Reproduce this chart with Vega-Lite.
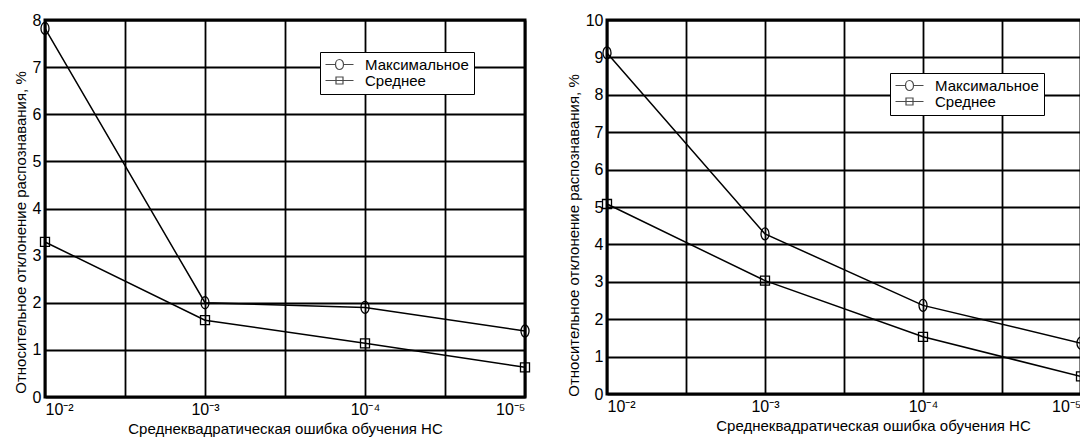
{
  "$schema": "https://vega.github.io/schema/vega-lite/v6.json",
  "background": "white",
  "padding": {"left": 11, "top": 10, "right": 0, "bottom": 0},
  "config": {
    "font": "Liberation Sans",
    "view": {"stroke": "black", "strokeWidth": 3},
    "axis": {
      "domain": false,
      "ticks": false,
      "gridColor": "black",
      "gridWidth": 1.8,
      "gridOpacity": 1,
      "labelColor": "black",
      "titleColor": "black",
      "labelFontSize": 16,
      "titleFontSize": 15,
      "titleFontWeight": "normal",
      "labelFont": "Liberation Sans",
      "titleFont": "Liberation Sans",
      "labelOverlap": false
    },
    "legend": {
      "title": null,
      "orient": "none",
      "strokeColor": "black",
      "fillColor": "white",
      "padding": 5,
      "labelFontSize": 15,
      "labelColor": "black",
      "labelFont": "Liberation Sans",
      "symbolStrokeColor": "black",
      "symbolFillColor": "transparent",
      "symbolSize": 64,
      "symbolStrokeWidth": 1.2,
      "rowPadding": 0,
      "symbolOffset": 7,
      "labelOffset": 18
    }
  },
  "datasets": {
    "left": [
      {"exp": 2, "value": 7.82, "series": "Максимальное"},
      {"exp": 3, "value": 2.0, "series": "Максимальное"},
      {"exp": 4, "value": 1.9, "series": "Максимальное"},
      {"exp": 5, "value": 1.4, "series": "Максимальное"},
      {"exp": 2, "value": 3.29, "series": "Среднее"},
      {"exp": 3, "value": 1.63, "series": "Среднее"},
      {"exp": 4, "value": 1.14, "series": "Среднее"},
      {"exp": 5, "value": 0.63, "series": "Среднее"}
    ],
    "right": [
      {"exp": 2, "value": 9.12, "series": "Максимальное"},
      {"exp": 3, "value": 4.28, "series": "Максимальное"},
      {"exp": 4, "value": 2.37, "series": "Максимальное"},
      {"exp": 5, "value": 1.36, "series": "Максимальное"},
      {"exp": 2, "value": 5.08, "series": "Среднее"},
      {"exp": 3, "value": 3.03, "series": "Среднее"},
      {"exp": 4, "value": 1.53, "series": "Среднее"},
      {"exp": 5, "value": 0.47, "series": "Среднее"}
    ]
  },
  "spacing": 30,
  "resolve": {
    "scale": {"x": "independent", "y": "independent", "shape": "independent"},
    "legend": {"shape": "independent"}
  },
  "hconcat": [
    {
      "width": 480,
      "height": 377,
      "data": {"name": "left"},
      "encoding": {
        "x": {
          "field": "exp", "type": "quantitative",
          "scale": {"domain": [2, 5], "nice": false, "zero": false},
          "axis": {
            "values": [2, 2.5, 3, 3.5, 4, 4.5, 5],
            "labelExpr": "datum.value == 2 ? '10⁻²' : datum.value == 3 ? '10⁻³' : datum.value == 4 ? '10⁻⁴' : datum.value == 5 ? '10⁻⁵' : ''",
            "labelFlush": true,
            "labelPadding": 4,
            "titlePadding": 4,
            "title": "Среднеквадратическая ошибка обучения НС"
          }
        },
        "y": {
          "field": "value", "type": "quantitative",
          "scale": {"domain": [0, 8], "nice": false},
          "axis": {
            "values": [0, 1, 2, 3, 4, 5, 6, 7, 8],
            "labelPadding": 4,
            "titlePadding": 4,
            "titleY": 212,
            "title": "Относительное отклонение распознавания, %"
          }
        }
      },
      "resolve": {"scale": {"shape": "independent"}, "legend": {"shape": "independent"}},
      "layer": [
        {
          "mark": {"type": "line", "color": "black", "strokeWidth": 1.5},
          "encoding": {"detail": {"field": "series", "type": "nominal"}}
        },
        {
          "mark": {"type": "point", "filled": false, "color": "black", "strokeWidth": 1.3, "size": 144, "opacity": 1},
          "encoding": {
            "shape": {
              "field": "series", "type": "nominal",
              "scale": {
                "domain": ["Максимальное", "Среднее"],
                "range": ["M0,-1A0.67,1 0 1,1 0,1A0.67,1 0 1,1 0,-1Z", "M-0.75,-0.75H0.75V0.75H-0.75Z"]
              },
              "legend": null
            }
          }
        },
        {
          "transform": [{"filter": "datum.exp > 100"}],
          "mark": {"type": "point", "filled": false, "color": "black", "strokeWidth": 1.2, "size": 64},
          "encoding": {
            "shape": {
              "field": "series", "type": "nominal",
              "scale": {
                "domain": ["Максимальное", "Среднее"],
                "range": ["M-3.5,0H-1M1,0H3.5M-1,0A1,1.25 0 1,1 1,0A1,1.25 0 1,1 -1,0", "M-3.5,0H3.5M-0.875,-0.875H0.875V0.875H-0.875Z"]
              },
              "legend": {"legendX": 275, "legendY": 32}
            }
          }
        }
      ]
    },
    {
      "width": 474,
      "height": 374,
      "data": {"name": "right"},
      "encoding": {
        "x": {
          "field": "exp", "type": "quantitative",
          "scale": {"domain": [2, 5], "nice": false, "zero": false},
          "axis": {
            "values": [2, 2.5, 3, 3.5, 4, 4.5, 5],
            "labelExpr": "datum.value == 2 ? '10⁻²' : datum.value == 3 ? '10⁻³' : datum.value == 4 ? '10⁻⁴' : datum.value == 5 ? '10⁻⁵' : ''",
            "labelFlush": true,
            "labelPadding": 4,
            "titlePadding": 4,
            "titleX": 266,
            "titleAlign": "center",
            "title": "Среднеквадратическая ошибка обучения НС"
          }
        },
        "y": {
          "field": "value", "type": "quantitative",
          "scale": {"domain": [0, 10], "nice": false},
          "axis": {
            "values": [0, 1, 2, 3, 4, 5, 6, 7, 8, 9, 10],
            "labelPadding": 4,
            "titlePadding": 4,
            "titleY": 215,
            "title": "Относительное отклонение распознавания, %"
          }
        }
      },
      "resolve": {"scale": {"shape": "independent"}, "legend": {"shape": "independent"}},
      "layer": [
        {
          "mark": {"type": "line", "color": "black", "strokeWidth": 1.5},
          "encoding": {"detail": {"field": "series", "type": "nominal"}}
        },
        {
          "mark": {"type": "point", "filled": false, "color": "black", "strokeWidth": 1.3, "size": 144, "opacity": 1},
          "encoding": {
            "shape": {
              "field": "series", "type": "nominal",
              "scale": {
                "domain": ["Максимальное", "Среднее"],
                "range": ["M0,-1A0.67,1 0 1,1 0,1A0.67,1 0 1,1 0,-1Z", "M-0.75,-0.75H0.75V0.75H-0.75Z"]
              },
              "legend": null
            }
          }
        },
        {
          "transform": [{"filter": "datum.exp > 100"}],
          "mark": {"type": "point", "filled": false, "color": "black", "strokeWidth": 1.2, "size": 64},
          "encoding": {
            "shape": {
              "field": "series", "type": "nominal",
              "scale": {
                "domain": ["Максимальное", "Среднее"],
                "range": ["M-3.5,0H-1M1,0H3.5M-1,0A1,1.25 0 1,1 1,0A1,1.25 0 1,1 -1,0", "M-3.5,0H3.5M-0.875,-0.875H0.875V0.875H-0.875Z"]
              },
              "legend": {"legendX": 283, "legendY": 53}
            }
          }
        }
      ]
    }
  ]
}
